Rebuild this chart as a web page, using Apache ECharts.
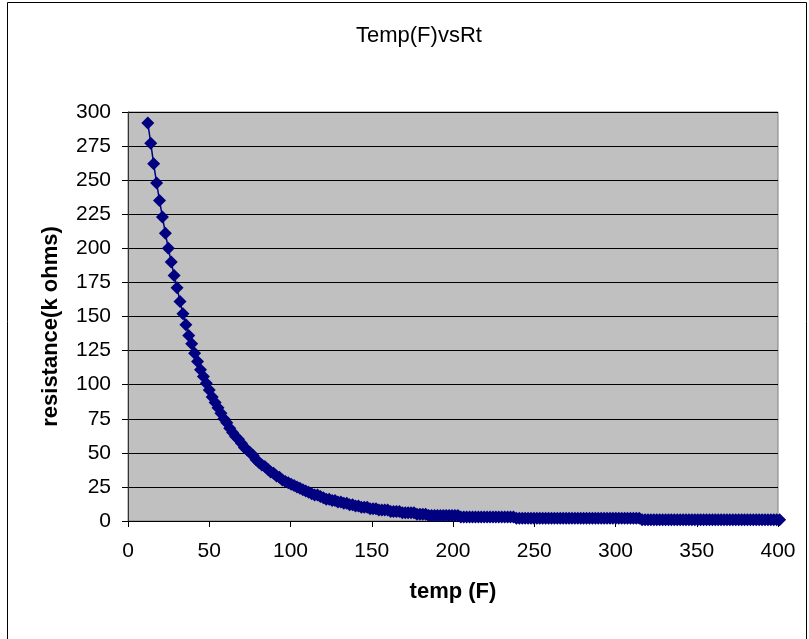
<!DOCTYPE html>
<html>
<head>
<meta charset="utf-8">
<script src="https://cdn.jsdelivr.net/npm/echarts@6/dist/echarts.min.js"></script>
<style>html,body{margin:0;padding:0;background:#fff;}#chart{width:809px;height:639px;}</style>
</head>
<body>
<div id="chart"></div>
<script>
var chartTitle = 'Temp(F)vsRt';
var xAxisName = 'temp (F)';
var yAxisName = 'resistance(k ohms)';
var xTicks = [0, 50, 100, 150, 200, 250, 300, 350, 400];
var yTicks = [0, 25, 50, 75, 100, 125, 150, 175, 200, 225, 250, 275, 300];

var tempF = [12.2,14,15.8,17.6,19.4,21.2,23,24.8,26.6,28.4,30.2,
32,33.8,35.6,37.4,39.2,41,42.8,44.6,46.4,48.2,
50,51.8,53.6,55.4,57.2,59,60.8,62.6,64.4,66.2,
68,69.8,71.6,73.4,75.2,77,78.8,80.6,82.4,84.2,
86,87.8,89.6,91.4,93.2,95,96.8,98.6,100.4,102.2,
104,105.8,107.6,109.4,111.2,113,114.8,116.6,118.4,120.2,
122,123.8,125.6,127.4,129.2,131,132.8,134.6,136.4,138.2,
140,141.8,143.6,145.4,147.2,149,150.8,152.6,154.4,156.2,
158,159.8,161.6,163.4,165.2,167,168.8,170.6,172.4,174.2,
176,177.8,179.6,181.4,183.2,185,186.8,188.6,190.4,192.2,
194,195.8,197.6,199.4,201.2,203,204.8,206.6,208.4,210.2,
212,213.8,215.6,217.4,219.2,221,222.8,224.6,226.4,228.2,
230,231.8,233.6,235.4,237.2,239,240.8,242.6,244.4,246.2,
248,249.8,251.6,253.4,255.2,257,258.8,260.6,262.4,264.2,
266,267.8,269.6,271.4,273.2,275,276.8,278.6,280.4,282.2,
284,285.8,287.6,289.4,291.2,293,294.8,296.6,298.4,300.2,
302,303.8,305.6,307.4,309.2,311,312.8,314.6,316.4,318.2,
320,321.8,323.6,325.4,327.2,329,330.8,332.6,334.4,336.2,
338,339.8,341.6,343.4,345.2,347,348.8,350.6,352.4,354.2,
356,357.8,359.6,361.4,363.2,365,366.8,368.6,370.4,372.2,
374,375.8,377.6,379.4,381.2,383,384.8,386.6,388.4,390.2,
392,393.8,395.6,397.4,399.2,401];

var resistanceK = [292,277,262,248,235,223,211,200,190,180,171,
161,152,144,136,130,123,117,111,106,101,
96,91,87,83,79,75,72,68,65,62,
60,57,54,52,50,48,45,43,41,40,
38,36,35,33,32,30,29,28,27,26,
25,24,23,22,21,20,19,19,18,17,
16,16,15,15,14,14,13,13,12,12,
11,11,10,10,10,9,9,9,8,8,
8,8,7,7,7,7,6,6,6,6,
6,5,5,5,5,4,4,4,4,4,
4,4,4,4,4,4,3,3,3,3,
3,3,3,3,3,3,3,3,3,3,
3,3,3,3,3,2,2,2,2,2,
2,2,2,2,2,2,2,2,2,2,
2,2,2,2,2,2,2,2,2,2,
2,2,2,2,2,2,2,2,2,2,
2,2,2,2,2,2,2,2,1,1,
1,1,1,1,1,1,1,1,1,1,
1,1,1,1,1,1,1,1,1,1,
1,1,1,1,1,1,1,1,1,1,
1,1,1,1,1,1,1,1,1,1,
1,1,1,1,1,1];

var FONT = '"Liberation Sans", Arial, sans-serif';
var points = tempF.map(function (t, i) { return [t, resistanceK[i]]; });

var chart = echarts.init(document.getElementById('chart'), null, {renderer: 'canvas'});
chart.setOption({
  animation: false,
  backgroundColor: '#ffffff',
  title: {
    text: chartTitle,
    left: 351,
    top: 20,
    textStyle: {fontFamily: FONT, fontSize: 22, fontWeight: 'normal', color: '#000'}
  },
  graphic: [{
    type: 'rect',
    shape: {x: 7.5, y: 2.5, width: 799, height: 700},
    style: {fill: 'none', stroke: '#000', lineWidth: 1},
    silent: true
  }],
  grid: {
    left: 128, right: 31, top: 112, bottom: 118,
    show: true, backgroundColor: '#c0c0c0', borderColor: '#808080', borderWidth: 1
  },
  xAxis: {
    type: 'value', min: xTicks[0], max: xTicks[xTicks.length - 1], interval: 50,
    name: xAxisName, nameLocation: 'middle', nameGap: 60, nameMoveOverlap: false,
    nameTextStyle: {fontFamily: FONT, fontSize: 22, fontWeight: 'bold', color: '#000'},
    axisLine: {show: true, onZero: false, lineStyle: {color: '#000', width: 1}},
    axisTick: {show: true, length: 6, lineStyle: {color: '#000'}},
    splitLine: {show: false},
    axisLabel: {fontFamily: FONT, fontSize: 21, color: '#000', margin: 20}
  },
  yAxis: {
    type: 'value', min: yTicks[0], max: yTicks[yTicks.length - 1], interval: 25,
    name: yAxisName, nameLocation: 'middle', nameGap: 66, nameMoveOverlap: false,
    nameTextStyle: {fontFamily: FONT, fontSize: 22, fontWeight: 'bold', color: '#000', padding: [0, 20, 0, 0]},
    axisLine: {show: true, lineStyle: {color: '#333', width: 1}},
    axisTick: {show: true, length: 6, lineStyle: {color: '#000'}},
    splitLine: {show: true, lineStyle: {color: '#000', width: 1}},
    axisLabel: {fontFamily: FONT, fontSize: 21, color: '#000', margin: 17}
  },
  series: [{
    type: 'line',
    data: points,
    clip: false,
    symbol: 'diamond',
    symbolSize: [13, 13],
    showAllSymbol: true,
    itemStyle: {color: '#000080'},
    lineStyle: {color: '#000080', width: 1.5}
  }]
});
</script>
</body>
</html>
